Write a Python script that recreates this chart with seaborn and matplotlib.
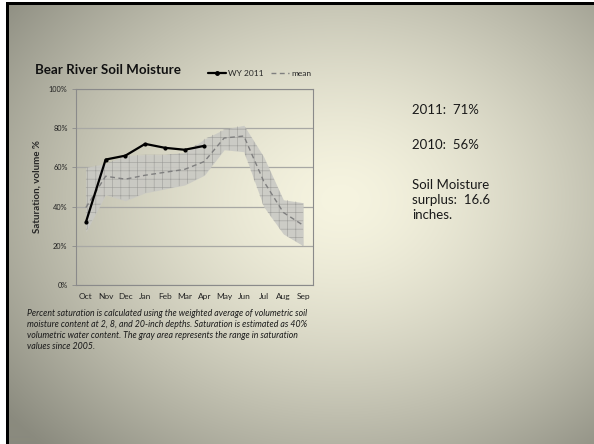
import numpy as np
import pandas as pd
import matplotlib
matplotlib.use("Agg")
import matplotlib.pyplot as plt
from matplotlib.lines import Line2D
import seaborn as sns

months = ["Oct", "Nov", "Dec", "Jan", "Feb", "Mar", "Apr", "May", "Jun", "Jul", "Aug", "Sep"]
wy2011 = [32, 64, 66, 72, 70, 69, 71]
mean_sat = [39.5, 55.5, 54, 56, 57.5, 59, 63, 75, 76, 53, 37, 30.5]
range_low = [27, 46, 43, 47, 49, 51, 56, 69, 68, 40, 26, 20]
range_high = [60, 62, 66, 66.5, 66.5, 67.5, 74.5, 79.5, 81.5, 65.5, 43.5, 42]
y_ticks = [0, 20, 40, 60, 80, 100]

W, H, DPI = 594, 444, 100

sns.set_theme(style="white")
plt.rcParams["font.family"] = ["Lato", "DejaVu Sans"]
plt.rcParams["hatch.linewidth"] = 0.45

fig = plt.figure(figsize=(W / DPI, H / DPI), dpi=DPI)

# slide background: soft elliptical gradient, cream centre to grey edges
bg = fig.add_axes([0, 0, 1, 1])
bg.set_axis_off()
yy, xx = np.mgrid[0:H, 0:W]
r = np.sqrt(((xx - 340) / 430.0) ** 2 + ((yy - 200) / 340.0) ** 2)
t = np.clip(r, 0, 1) ** 1.5
centre = np.array([246, 244, 224]) / 255.0
edge = np.array([138, 138, 126]) / 255.0
img = centre[None, None, :] * (1 - t[..., None]) + edge[None, None, :] * t[..., None]
img[:, :6, :] = 1.0
img[:3, :, :] = 1.0
img[3:, 6:9, :] = 0.0
img[3:6, 6:, :] = 0.0
bg.imshow(img, extent=[0, W, H, 0], aspect="auto", interpolation="bilinear")
bg.set_xlim(0, W)
bg.set_ylim(H, 0)

ax = fig.add_axes([76 / W, 1 - 285 / H, (313 - 76) / W, (285 - 89) / H])
ax.patch.set_alpha(0)

x = np.arange(len(months))
# range since 2005: grey band with a fine crosshatch over it
ax.fill_between(x, range_low, range_high, facecolor="#c9c9c4", alpha=0.9,
                linewidth=0, zorder=1)
ax.fill_between(x, range_low, range_high, facecolor="none", edgecolor="#a2a29e",
                linewidth=0, hatch="++", zorder=1.5)

mean_df = pd.DataFrame({"month": months, "sat": mean_sat})
wy_df = pd.DataFrame({"month": months[:len(wy2011)], "sat": wy2011})
sns.lineplot(data=mean_df, x="month", y="sat", ax=ax, color="#7f7f7f",
             linewidth=1.0, linestyle=(0, (3.5, 2.5)), sort=False, zorder=3)
sns.lineplot(data=wy_df, x="month", y="sat", ax=ax, color="black",
             linewidth=1.6, marker="o", markersize=3, markeredgewidth=0,
             sort=False, zorder=4)

ax.set_xlim(-0.5, len(months) - 0.5)
ax.set_ylim(0, 100)
ax.set_yticks(y_ticks)
ax.set_yticklabels([f"{v}%" for v in y_ticks])
ax.set_xticks(x)
ax.set_xticklabels(months)
ax.set_xticks(np.arange(-0.5, len(months), 1), minor=True)
ax.tick_params(axis="x", which="major", length=0, labelsize=6.0, pad=6, colors="#222222")
ax.tick_params(axis="x", which="minor", length=3, width=0.6, color="#8a8a8a", direction="out")
ax.tick_params(axis="y", which="major", length=3, width=0.6, color="#8a8a8a",
               labelsize=5.3, pad=3, left=True, colors="#222222")
ax.yaxis.grid(True, color="#a8a8a4", linewidth=0.9)
ax.set_axisbelow(True)
for s in ax.spines.values():
    s.set_color("#8a8a8a")
    s.set_linewidth(0.8)
ax.set_xlabel("")
ax.set_ylabel("Saturation, volume %", fontsize=7.0, fontweight="bold", labelpad=5)

fig.text(35 / W, 1 - 70 / H, "Bear River Soil Moisture", fontsize=9.6, fontweight="bold",
         color="#111111", va="center", ha="left")

handles = [Line2D([0], [0], color="black", linewidth=1.6, marker="o", markersize=2.5),
           Line2D([0], [0], color="#7f7f7f", linewidth=1.0, linestyle=(0, (3.5, 2.5)))]
fig.legend(handles, ["WY 2011", "mean"], loc="center left",
           bbox_to_anchor=(200 / W, 1 - 73 / H), ncol=2, frameon=False,
           fontsize=6.0, handlelength=2.2, handletextpad=0.3, columnspacing=0.8)

side = dict(fontsize=9.5, color="#1a1a1a", ha="left", va="center")
fig.text(412 / W, 1 - 110 / H, "2011:  71%", **side)
fig.text(412 / W, 1 - 145 / H, "2010:  56%", **side)
fig.text(412 / W, 1 - 200 / H, "Soil Moisture\nsurplus:  16.6\ninches.",
         linespacing=1.3, **side)

caption = ("Percent saturation is calculated using the weighted average of volumetric soil\n"
           "moisture content at 2, 8, and 20-inch depths. Saturation is estimated as 40%\n"
           "volumetric water content. The gray area represents the range in saturation\n"
           "values since 2005.")
fig.text(27 / W, 1 - 330 / H, caption, fontsize=6.3, style="italic", color="#1a1a1a",
         ha="left", va="center", linespacing=1.25)

fig.savefig("out.png", dpi=DPI)
